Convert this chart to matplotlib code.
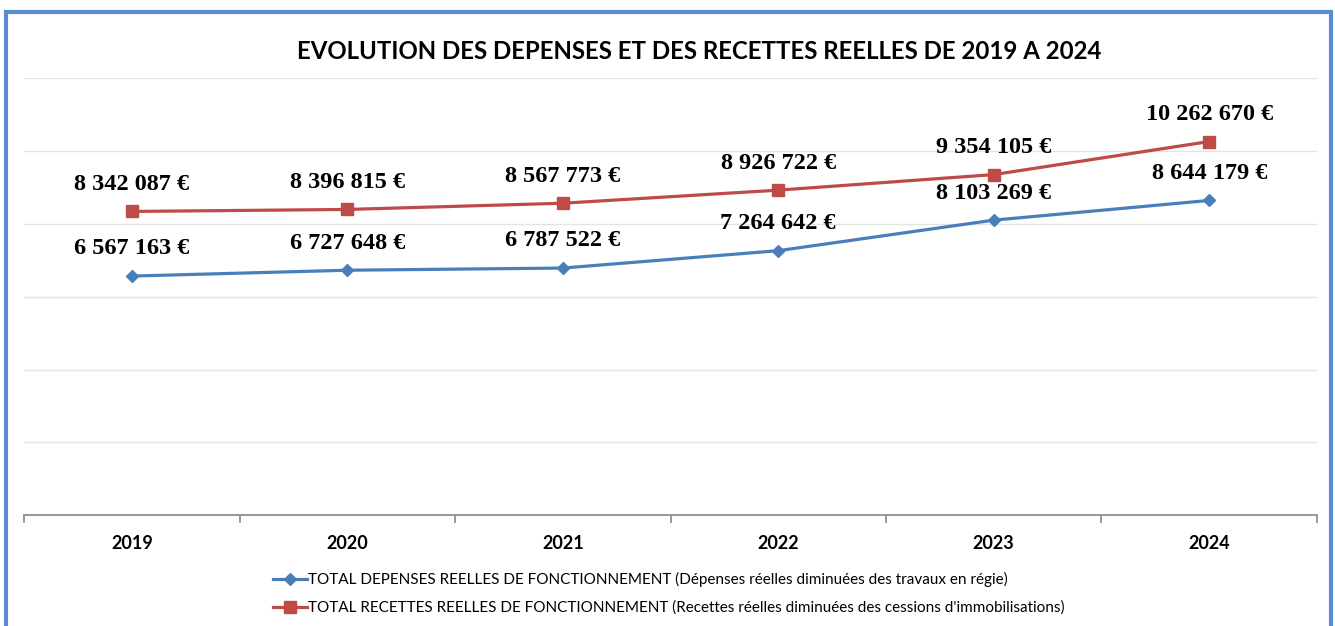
import matplotlib.pyplot as plt
from matplotlib.patches import Rectangle

years = ['2019', '2020', '2021', '2022', '2023', '2024']
depenses = [6567163, 6727648, 6787522, 7264642, 8103269, 8644179]
recettes = [8342087, 8396815, 8567773, 8926722, 9354105, 10262670]

label_dep = "TOTAL DEPENSES REELLES DE FONCTIONNEMENT (Dépenses réelles diminuées des travaux en régie)"
label_rec = "TOTAL RECETTES REELLES DE FONCTIONNEMENT (Recettes réelles diminuées des cessions d'immobilisations)"
title = "EVOLUTION DES DEPENSES ET DES RECETTES REELLES DE 2019 A 2024"

blue = '#4A7EBB'
red = '#BE4B48'


def fmt_euro(v):
    return f"{v:,}".replace(',', ' ') + ' €'


fig = plt.figure(figsize=(13.35, 6.26), dpi=100)
ax = fig.add_axes([0.018, 0.177, 0.9685, 0.698])

x = list(range(len(years)))
ax.plot(x, depenses, color=blue, lw=2.3, marker='D', ms=6.5, label=label_dep)
ax.plot(x, recettes, color=red, lw=2.3, marker='s', ms=8.5, label=label_rec)

for series in (depenses, recettes):
    for xi, v in zip(x, series):
        ax.annotate(fmt_euro(v), (xi, v), xytext=(0, 19.5), textcoords='offset points',
                    ha='center', va='center', fontsize=17.5, fontweight='bold',
                    family='Liberation Serif')

ax.set_xlim(-0.5, len(years) - 0.5)
ax.set_ylim(0, 12000000)
ax.set_yticks(range(0, 12000001, 2000000))
ax.yaxis.grid(True, color='#E3E3E3', lw=1)
ax.tick_params(axis='y', left=False, labelleft=False)
ax.set_axisbelow(True)

ax.set_xticks(x)
ax.set_xticklabels(years, fontsize=13, fontweight='bold', family='Lato')
ax.set_xticks([i - 0.5 for i in range(len(years) + 1)], minor=True)
ax.tick_params(axis='x', which='major', length=0, pad=14)
ax.tick_params(axis='x', which='minor', length=6, color='#888888', width=1.2)

for s in ['top', 'right', 'left']:
    ax.spines[s].set_visible(False)
ax.spines['bottom'].set_color('#888888')
ax.spines['bottom'].set_linewidth(1.2)

fig.text(0.524, 0.918, title, ha='center', va='center', fontsize=17.3,
         fontweight='bold', family='Lato')

fig.legend(loc='upper left', bbox_to_anchor=(0.2045, 0.0863), frameon=False,
           prop={'family': 'Lato', 'size': 11}, handlelength=2.2,
           handletextpad=0.1, labelspacing=0.9, borderpad=0, borderaxespad=0)

fig.patches.append(Rectangle((6 / 1335, -0.1), 1325 / 1335, 1.081,
                             transform=fig.transFigure, fill=False,
                             edgecolor='#5B8BD0', lw=3, zorder=10))

fig.savefig('out.png', dpi=100)
